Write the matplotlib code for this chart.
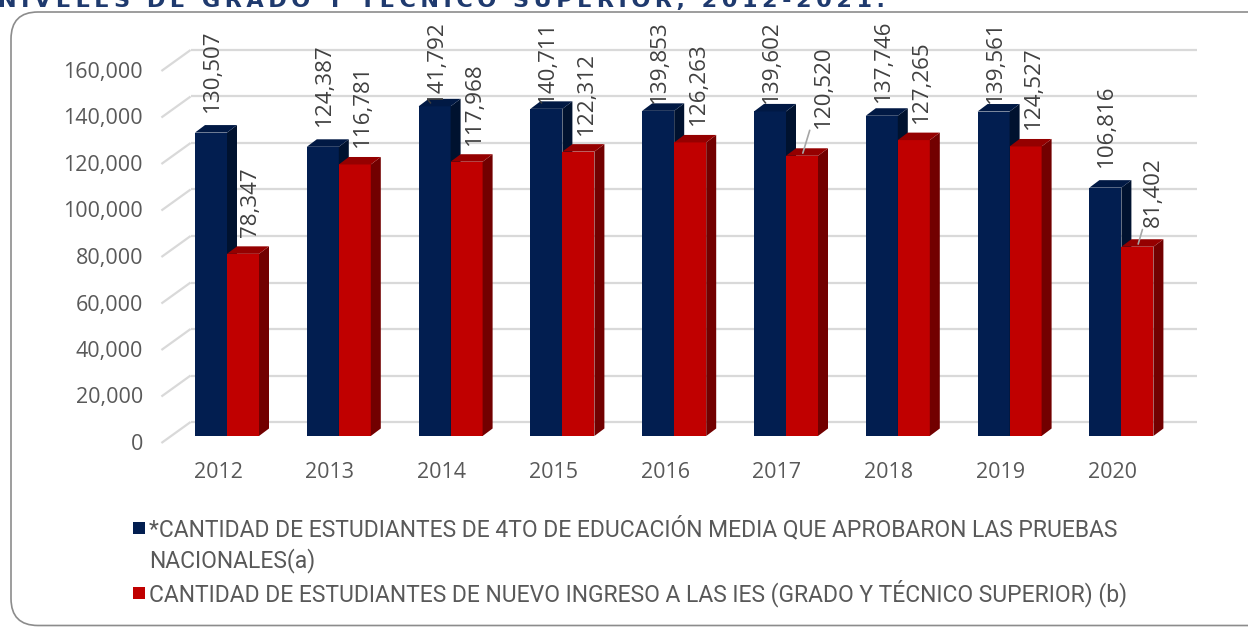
import matplotlib
matplotlib.use('Agg')
import matplotlib.pyplot as plt
from matplotlib.patches import Polygon, FancyBboxPatch, Rectangle
from matplotlib.transforms import ScaledTranslation, IdentityTransform

# ---------------- data ----------------
years = ['2012', '2013', '2014', '2015', '2016', '2017', '2018', '2019', '2020']
aprobados = [130507, 124387, 141792, 140711, 139853, 139602, 137746, 139561, 106816]
nuevo_ingreso = [78347, 116781, 117968, 122312, 126263, 120520, 127265, 124527, 81402]
yticks = [0, 20000, 40000, 60000, 80000, 100000, 120000, 140000, 160000]
legend_labels = [
    "*CANTIDAD DE ESTUDIANTES DE 4TO DE EDUCACIÓN MEDIA QUE APROBARON LAS PRUEBAS\nNACIONALES(a)",
    "CANTIDAD DE ESTUDIANTES DE NUEVO INGRESO A LAS IES (GRADO Y TÉCNICO SUPERIOR) (b)",
]
title = "NIVELES DE GRADO Y TÉCNICO SUPERIOR, 2012-2021."

# ---------------- style ----------------
W, H = 1248, 627
NAVY, NAVY_TOP, NAVY_SIDE = '#021E50', '#011944', '#00122F'
RED, RED_TOP, RED_SIDE = '#C00000', '#950000', '#720000'
GRID = '#D9D9D9'
TXT = '#595959'
LBL = '#404040'
FONT = ['Open Sans', 'DejaVu Sans']
LBL_SIZE = 16.1
# label nudges (pixels): x shift, vertical gap above bar front top (leader line drawn)
red_nudge = {5: (21, 28), 8: (16, 20)}

fig = plt.figure(figsize=(W / 100, H / 100), dpi=100)
x0_px, x1_px = 171.1, 1177.3
y0_px = 436.0
px_per_unit = 2.325 / 1000
ytop_val = 175000
ytop_px = y0_px - ytop_val * px_per_unit
ax = fig.add_axes([x0_px / W, (H - y0_px) / H, (x1_px - x0_px) / W, (y0_px - ytop_px) / H])
ax.set_xlim(-0.5, 8.5)
ax.set_ylim(0, ytop_val)
for s in ax.spines.values():
    s.set_visible(False)

ppx = (x1_px - x0_px) / 9.0          # pixels per category unit
ppy = px_per_unit                     # pixels per value unit


def off(dx_px, dy_px):
    return dx_px / ppx, dy_px / ppy


bdx, bdy = off(10, 7.5)       # bar depth
wdx, wdy = off(19.5, 14)      # back wall
fdx, fdy = off(-9.7, -7)      # floor front

# gridlines (back wall + left wall diagonals)
for v in yticks:
    ax.plot([-0.5 + wdx, 8.5 + wdx], [v + wdy, v + wdy], color=GRID, lw=1.6,
            clip_on=False, zorder=1, solid_capstyle='butt')
    ax.plot([-0.5 + fdx, -0.5 + wdx], [v + fdy, v + wdy], color=GRID, lw=1.6,
            clip_on=False, zorder=1, solid_capstyle='butt')

w = 32.0 / ppx
xs = list(range(len(years)))


def bar3d(xl, v, front, top, side, z):
    ax.bar(xl, v, w, align='edge', color=front, zorder=z, linewidth=0, clip_on=False)
    ax.add_patch(Polygon([(xl + w, 0), (xl + w + bdx, bdy), (xl + w + bdx, v + bdy), (xl + w, v)],
                         closed=True, facecolor=side, edgecolor='none', zorder=z, clip_on=False))
    ax.add_patch(Polygon([(xl, v), (xl + w, v), (xl + w + bdx, v + bdy), (xl + bdx, v + bdy)],
                         closed=True, facecolor=top, edgecolor='none', zorder=z, clip_on=False))


for i in xs:
    bar3d(i - w, aprobados[i], NAVY, NAVY_TOP, NAVY_SIDE, 3 + 2 * i)
    bar3d(i, nuevo_ingreso[i], RED, RED_TOP, RED_SIDE, 4 + 2 * i)

# data labels
labels = []
for i in xs:
    a = ax.annotate(f"{aprobados[i]:,}", xy=(i - w / 2, aprobados[i]), xytext=(1.5, 21),
                    textcoords='offset pixels', rotation=90, ha='center', va='bottom',
                    fontsize=LBL_SIZE, color=LBL, family=FONT, zorder=30, annotation_clip=False)
    labels.append(a)
    dxn, gap = red_nudge.get(i, (8, 17))
    kw = {}
    if i in red_nudge:
        kw['arrowprops'] = dict(arrowstyle='-', color='#A6A6A6', lw=1.2, shrinkA=0, shrinkB=2)
    b = ax.annotate(f"{nuevo_ingreso[i]:,}", xy=(i + w / 2, nuevo_ingreso[i]), xytext=(dxn, gap),
                    textcoords='offset pixels', rotation=90, ha='center', va='bottom',
                    fontsize=LBL_SIZE, color=LBL, family=FONT, zorder=30, annotation_clip=False, **kw)
    labels.append(b)

# axis ticks
ax.set_yticks(yticks)
ax.set_yticklabels([f"{v:,}" for v in yticks])
ax.set_xticks(xs)
ax.set_xticklabels(years)
ax.tick_params(axis='y', length=0, pad=20.2, labelsize=15.5, labelcolor=TXT)
ax.tick_params(axis='x', length=0, pad=19.0, labelsize=15.5, labelcolor=TXT)
for lab in ax.get_yticklabels() + ax.get_xticklabels():
    lab.set_family(FONT)
for lab in ax.get_yticklabels():
    lab.set_transform(lab.get_transform() + ScaledTranslation(0, -6 / 100, fig.dpi_scale_trans))
for lab in ax.get_xticklabels():
    lab.set_transform(lab.get_transform() + ScaledTranslation(-9 / 100, 0, fig.dpi_scale_trans))

# legend (manual, square aligned to first line)
LEG_FONT = ['Roboto', 'DejaVu Sans']
leg_colors = [NAVY, RED]
leg_tops = [521, 586]
line_step = 32
leg_texts = []
for lbl, col, top in zip(legend_labels, leg_colors, leg_tops):
    fig.add_artist(Rectangle((133 / W, 1 - (top + 12.5) / H), 12 / W, 12 / H,
                             transform=fig.transFigure, facecolor=col, edgecolor='none'))
    for k, line in enumerate(lbl.split('\n')):
        t = fig.text(149 / W, 1 - (top + 7.5 + k * line_step) / H, line, ha='left', va='center',
                     fontsize=15.5, color=TXT, family=LEG_FONT)
        leg_texts.append(t)

# title (cut at the top)
title_txt = fig.text(-2 / W, 1 - 7 / H, '\u2009'.join(title), ha='left', va='baseline',
                     fontsize=20, fontweight='bold', color='#1F3A6E', family=['DejaVu Sans'])

# outer rounded border
border = FancyBboxPatch((11, 1.5), 1300, 613.5, boxstyle='round,pad=0,rounding_size=27',
                        transform=IdentityTransform(), facecolor='none', edgecolor='#8C8C8C', lw=1.2)
fig.add_artist(border)

# ---- fit sizes with renderer ----
fig.canvas.draw()
r = fig.canvas.get_renderer()
bb = leg_texts[0].get_window_extent(r)
scale = (1117 - 149) / bb.width
for t in leg_texts:
    t.set_fontsize(15.5 * scale)
bb = title_txt.get_window_extent(r)
title_txt.set_fontsize(20 * (880 + 2) / bb.width)

# clamp data labels so they stay below the top of the chart area
fig.canvas.draw()
limit = H - 20
for a in labels:
    bb = a.get_window_extent(r)
    if bb.y1 > limit:
        dx, dy = a.xyann
        a.xyann = (dx, dy - (bb.y1 - limit))

fig.savefig('out.png', dpi=100)
